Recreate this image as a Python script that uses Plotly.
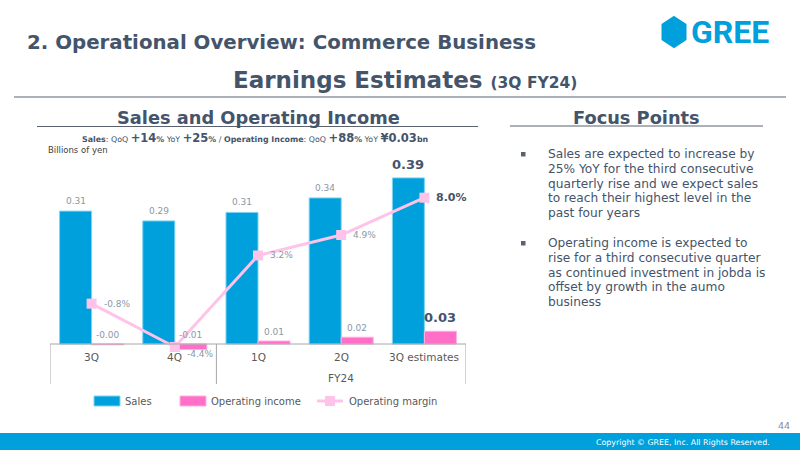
import plotly.graph_objects as go

# ---------------- data ----------------
categories = ["3Q", "4Q", "1Q", "2Q", "3Q estimates"]
group_labels = ["", "FY24"]
sales = [0.312, 0.289, 0.309, 0.343, 0.390]            # billions of yen
operating_income = [-0.002, -0.013, 0.007, 0.016, 0.030]
operating_margin = [-0.8, -4.4, 3.2, 4.9, 8.0]          # %
legend_names = ["Sales", "Operating income", "Operating margin"]

bullets = [
    ["Sales are expected to increase by", "25% YoY for the third consecutive", "quarterly rise and we expect sales",
     "to reach their highest level in the", "past four years"],
    ["Operating income is expected to", "rise for a third consecutive quarter", "as continued investment in jobda is",
     "offset by growth in the aumo", "business"],
]

# ---------------- styles ----------------
W, H = 800, 450
FONT = "DejaVu Sans"
DARK = "#44546a"
GREY = "#8a97a8"
TICK = "#595959"
BLUE = "#00a0dc"
PINK = "#ff6ec7"
LPINK = "#ffc2e8"


def py(p):
    return 1 - p / H


def px(p):
    return p / W


x = list(range(len(categories)))
last = len(categories) - 1

fig = go.Figure()
fig.add_trace(go.Bar(x=x, y=sales, name=legend_names[0], marker=dict(color=BLUE, line=dict(color="#7fd3f2", width=1)),
                     showlegend=False, hoverinfo="skip"))
fig.add_trace(go.Bar(x=x, y=operating_income, name=legend_names[1], marker=dict(color=PINK, line=dict(color="#ffb0e0", width=1)),
                     showlegend=False, hoverinfo="skip"))
fig.add_trace(go.Scatter(x=x, y=operating_margin, yaxis="y2", name=legend_names[2], mode="lines+markers",
                         line=dict(color=LPINK, width=3), marker=dict(symbol="square", size=10, color=LPINK),
                         showlegend=False, hoverinfo="skip"))

ann = []
shapes = []

# value labels
for i in x:
    bold = i == last
    ann.append(dict(x=i, y=sales[i], xref="x", yref="y", xshift=-16, yshift=3 if not bold else 4, yanchor="bottom",
                    text=(f"<b>{sales[i]:.2f}</b>" if bold else f"{sales[i]:.2f}"), showarrow=False,
                    font=dict(family=FONT, size=13 if bold else 9, color=DARK if bold else GREY)))
    v = operating_income[i]
    ann.append(dict(x=i, y=max(v, 0), xref="x", yref="y", xshift=16, yshift=2 if not bold else 4, yanchor="bottom",
                    text=(f"<b>{v:.2f}</b>" if bold else f"{v:.2f}"), showarrow=False,
                    font=dict(family=FONT, size=13 if bold else 9, color=DARK if bold else GREY)))
    m = operating_margin[i]
    below = m == min(operating_margin)
    ann.append(dict(x=i, y=m, xref="x", yref="y2", xshift=10, yshift=-7 if below else 0, xanchor="left",
                    text=(f"<b>{m:.1f}%</b>" if bold else f"{m:.1f}%"), showarrow=False,
                    font=dict(family=FONT, size=11 if bold else 9, color=DARK if bold else GREY)))
    # category labels
    ann.append(dict(x=i, y=py(357), xref="x", yref="paper", text=categories[i], showarrow=False,
                    font=dict(family=FONT, size=10.5, color=TICK)))

ann.append(dict(x=3, y=py(378), xref="x", yref="paper", text=group_labels[1], showarrow=False,
                font=dict(family=FONT, size=10.5, color=TICK)))

# axis line and group dividers
shapes.append(dict(type="line", xref="x", yref="y", x0=-0.5, x1=4.5, y0=0, y1=0, line=dict(color="#a6a6a6", width=1)))
for xv in [-0.5, 1.5, 4.5]:
    shapes.append(dict(type="line", xref="x", yref="paper", x0=xv, x1=xv, y0=py(344), y1=py(384),
                       line=dict(color="#a6a6a6", width=1)))

# legend (manual)
shapes.append(dict(type="rect", xref="paper", yref="paper", x0=px(94), x1=px(120), y0=py(406), y1=py(396),
                   fillcolor=BLUE, line=dict(color="#7fd3f2", width=1)))
shapes.append(dict(type="rect", xref="paper", yref="paper", x0=px(180), x1=px(206), y0=py(406), y1=py(396),
                   fillcolor=PINK, line=dict(color="#ffb0e0", width=1)))
shapes.append(dict(type="line", xref="paper", yref="paper", x0=px(317), x1=px(343), y0=py(401), y1=py(401),
                   line=dict(color=LPINK, width=3)))
shapes.append(dict(type="rect", xref="paper", yref="paper", x0=px(325), x1=px(335), y0=py(406), y1=py(396),
                   fillcolor=LPINK, line=dict(width=0)))
for xl, t in [(123, legend_names[0]), (209, legend_names[1]), (347, legend_names[2])]:
    ann.append(dict(x=px(xl), y=py(401), xref="paper", yref="paper", xanchor="left", text=t, showarrow=False,
                    font=dict(family=FONT, size=10, color=TICK)))

# ---------------- slide decoration ----------------
ann.append(dict(x=px(25), y=py(42), xref="paper", yref="paper", xanchor="left",
                text="<b>2. Operational Overview: Commerce Business</b>", showarrow=False,
                font=dict(family=FONT, size=19.8, color=DARK)))
ann.append(dict(x=px(405), y=py(80), xref="paper", yref="paper",
                text="<b>Earnings Estimates </b><b><span style='font-size:15.5px'>(3Q FY24)</span></b>", showarrow=False,
                font=dict(family=FONT, size=23, color=DARK)))
shapes.append(dict(type="line", xref="paper", yref="paper", x0=px(14), x1=px(786), y0=py(97), y1=py(97),
                   line=dict(color="#5a6270", width=1.2)))

# logo
hx, hy, hw, hh = 674, 32, 11.5, 15
path = (f"M {px(hx)} {py(hy - hh)} L {px(hx + hw)} {py(hy - hh / 2)} L {px(hx + hw)} {py(hy + hh / 2)} "
        f"L {px(hx)} {py(hy + hh)} L {px(hx - hw)} {py(hy + hh / 2)} L {px(hx - hw)} {py(hy - hh / 2)} Z")
shapes.append(dict(type="path", xref="paper", yref="paper", path=path, fillcolor=BLUE, line=dict(color=BLUE, width=2)))
ann.append(dict(x=px(689), y=py(32), xref="paper", yref="paper", xanchor="left", text="<b>GREE</b>", showarrow=False,
                font=dict(family="Roboto", size=32, color=BLUE)))

# chart heading
ann.append(dict(x=px(258), y=py(117), xref="paper", yref="paper", text="<b>Sales and Operating Income</b>",
                showarrow=False, font=dict(family=FONT, size=17.8, color=DARK)))
shapes.append(dict(type="line", xref="paper", yref="paper", x0=px(37), x1=px(478), y0=py(126.5), y1=py(126.5),
                   line=dict(color="#5a6270", width=1.2)))
sub = ("<b>Sales</b>: QoQ <b><span style='font-size:11.5px'>+14</span></b><b>%</b> YoY "
       "<b><span style='font-size:11.5px'>+25</span></b><b>%</b> / <b>Operating Income</b>: QoQ "
       "<b><span style='font-size:11.5px'>+88</span></b><b>%</b> YoY <b><span style='font-size:11.5px'>¥0.03</span></b><b>bn</b>")
ann.append(dict(x=px(255), y=py(138), xref="paper", yref="paper", text=sub, showarrow=False,
                font=dict(family=FONT, size=7.9, color=DARK)))
ann.append(dict(x=px(46), y=py(149.5), xref="paper", yref="paper", xanchor="left", text="Billions of yen",
                showarrow=False, font=dict(family=FONT, size=8.5, color="#404040")))

# focus points
ann.append(dict(x=px(636), y=py(117), xref="paper", yref="paper", text="<b>Focus Points</b>",
                showarrow=False, font=dict(family=FONT, size=17.8, color=DARK)))
shapes.append(dict(type="line", xref="paper", yref="paper", x0=px(510), x1=px(763), y0=py(126), y1=py(126),
                   line=dict(color="#5a6270", width=1.2)))
for first, lines in zip([154, 243], bullets):
    for k, line in enumerate(lines):
        ann.append(dict(x=px(546), y=py(first + k * 14.8), xref="paper", yref="paper", xanchor="left",
                        text=line, showarrow=False, font=dict(family=FONT, size=12.2, color=DARK)))
    shapes.append(dict(type="rect", xref="paper", yref="paper", x0=px(521), x1=px(525.5), y0=py(first + 2.5),
                       y1=py(first - 2), fillcolor="#5a6270", line=dict(width=0)))

# footer
shapes.append(dict(type="rect", xref="paper", yref="paper", x0=0, x1=1, y0=0, y1=py(433), fillcolor=BLUE,
                   line=dict(width=0)))
ann.append(dict(x=px(772), y=py(442), xref="paper", yref="paper", xanchor="right",
                text="Copyright © GREE, Inc. All Rights Reserved.", showarrow=False,
                font=dict(family=FONT, size=7.9, color="white")))
ann.append(dict(x=px(792), y=py(425), xref="paper", yref="paper", xanchor="right", text="44", showarrow=False,
                font=dict(family=FONT, size=9.5, color="#8c8c8c")))

for a in ann:
    a.setdefault("xanchor", "center")
    a.setdefault("yanchor", "middle")

fig.update_layout(
    width=W, height=H, margin=dict(l=0, r=0, t=0, b=0),
    paper_bgcolor="white", plot_bgcolor="rgba(0,0,0,0)",
    barmode="group", bargap=0.23, bargroupgap=0,
    xaxis=dict(domain=[px(50), px(466)], range=[-0.5, 4.5], visible=False, fixedrange=True),
    yaxis=dict(domain=[py(360), py(160)], range=[-0.03756, 0.4320], visible=False, fixedrange=True),
    yaxis2=dict(overlaying="y", range=[-5.48, 11.13], visible=False, fixedrange=True),
    annotations=ann, shapes=shapes, showlegend=False,
)

fig.write_html("out.html")
